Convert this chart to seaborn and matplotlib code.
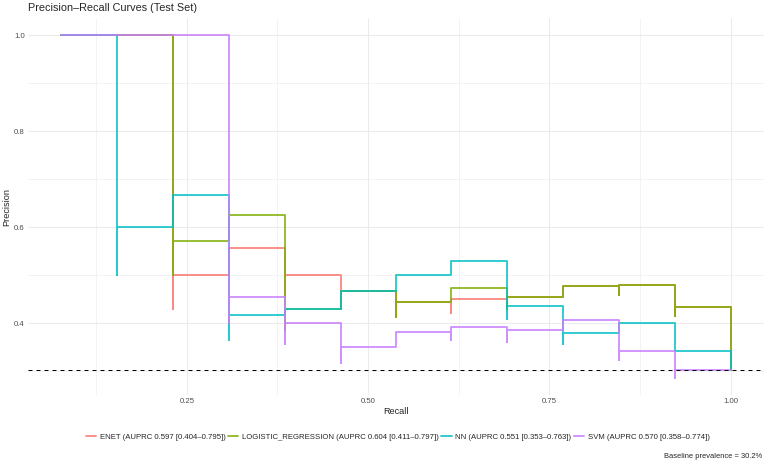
import pandas as pd
import matplotlib
matplotlib.use('Agg')
import matplotlib.pyplot as plt
from matplotlib.ticker import MultipleLocator
import seaborn as sns

# Valores (recall, precision) para cada modelo
enet_recall = [0.077, 0.154, 0.231, 0.231, 0.308, 0.385, 0.385, 0.462, 0.462, 0.538, 0.538,
               0.615, 0.615, 0.692, 0.692, 0.769, 0.846, 0.846, 0.923, 0.923, 1.0, 1.0]
enet_precision = [1.0, 1.0, 1.0, 0.429, 0.5, 0.556, 0.455, 0.5, 0.429, 0.467, 0.412,
                  0.444, 0.421, 0.45, 0.429, 0.455, 0.478, 0.458, 0.48, 0.414, 0.433, 0.302]

lr_recall = [0.077, 0.154, 0.231, 0.231, 0.308, 0.385, 0.385, 0.462, 0.538, 0.538,
             0.615, 0.692, 0.692, 0.769, 0.846, 0.846, 0.923, 0.923, 1.0, 1.0]
lr_precision = [1.0, 1.0, 1.0, 0.5, 0.571, 0.625, 0.385, 0.429, 0.467, 0.412,
                0.444, 0.474, 0.429, 0.455, 0.478, 0.458, 0.48, 0.414, 0.433, 0.302]

nn_recall = [0.077, 0.154, 0.154, 0.231, 0.308, 0.308, 0.385, 0.462, 0.538,
             0.615, 0.692, 0.692, 0.769, 0.769, 0.846, 0.923, 1.0, 1.0]
nn_precision = [1.0, 1.0, 0.5, 0.6, 0.667, 0.364, 0.417, 0.429, 0.467,
                0.5, 0.529, 0.409, 0.435, 0.357, 0.379, 0.4, 0.342, 0.302]

svm_recall = [0.077, 0.154, 0.231, 0.308, 0.308, 0.385, 0.385, 0.462, 0.462, 0.538,
              0.615, 0.615, 0.692, 0.692, 0.769, 0.846, 0.846, 0.923, 0.923, 1.0]
svm_precision = [1.0, 1.0, 1.0, 1.0, 0.4, 0.455, 0.357, 0.4, 0.316, 0.35,
                 0.381, 0.364, 0.391, 0.36, 0.385, 0.407, 0.324, 0.343, 0.286, 0.302]

labels = ['ENET (AUPRC 0.597 [0.404–0.795])',
          'LOGISTIC_REGRESSION (AUPRC 0.604 [0.411–0.797])',
          'NN (AUPRC 0.551 [0.353–0.763])',
          'SVM (AUPRC 0.570 [0.358–0.774])']
colors = ['#F8766D', '#7CAE00', '#00BFC4', '#C77CFF']
baseline = 0.302

sns.set_theme(style='whitegrid')
plt.rcParams['font.family'] = ['Liberation Sans', 'DejaVu Sans']

# Montando o dataframe longo
partes = []
for lab, r, p in zip(labels,
                     [enet_recall, lr_recall, nn_recall, svm_recall],
                     [enet_precision, lr_precision, nn_precision, svm_precision]):
    partes.append(pd.DataFrame({'Recall': r, 'Precision': p, 'model': lab}))
df = pd.concat(partes, ignore_index=True)

W, H, DPI = 767, 464, 60
fig, ax = plt.subplots(figsize=(W / DPI, H / DPI), dpi=DPI)
fig.subplots_adjust(left=28 / W, right=764 / W, top=1 - 18 / H, bottom=1 - 395 / H)

sns.lineplot(data=df, x='Recall', y='Precision', hue='model', palette=colors,
             estimator=None, sort=False, drawstyle='steps-pre',
             linewidth=2.2, alpha=0.85, ax=ax)
ax.axhline(baseline, color='black', linewidth=1.2, linestyle=(0, (4, 4)), zorder=5)

# Limites com expansão de 5% (como no ggplot)
xlo, xhi = df['Recall'].min(), df['Recall'].max()
ylo, yhi = df['Precision'].min(), df['Precision'].max()
ax.set_xlim(xlo - 0.05 * (xhi - xlo), xhi + 0.05 * (xhi - xlo))
ax.set_ylim(ylo - 0.05 * (yhi - ylo), yhi + 0.05 * (yhi - ylo))

ax.set_xticks([0.25, 0.5, 0.75, 1.0])
ax.set_xticklabels(['0.25', '0.50', '0.75', '1.00'])
ax.set_yticks([0.4, 0.6, 0.8, 1.0])
ax.set_yticklabels(['0.4', '0.6', '0.8', '1.0'])
ax.xaxis.set_minor_locator(MultipleLocator(0.125))
ax.yaxis.set_minor_locator(MultipleLocator(0.1))
ax.grid(which='major', color='#EBEBEB', linewidth=1.3)
ax.grid(which='minor', color='#EBEBEB', linewidth=0.7)
ax.set_axisbelow(True)
for s in ax.spines.values():
    s.set_visible(False)
ax.tick_params(which='both', length=0, labelsize=9.3, labelcolor='#4D4D4D', pad=4)
ax.set_xlabel('Recall', fontsize=11, labelpad=2)
ax.set_ylabel('Precision', fontsize=11, labelpad=3)

fig.text(28 / W, 1 - 8 / H, 'Precision–Recall Curves (Test Set)', fontsize=13,
         ha='left', va='center')

handles, labs = ax.get_legend_handles_labels()
ax.get_legend().remove()
fig.legend(handles, labs, loc='center', bbox_to_anchor=(398 / W, 1 - 437 / H), ncol=4,
           frameon=False, fontsize=9.3, handlelength=1.3, handletextpad=0.5,
           columnspacing=0.3)

fig.text(762 / W, 1 - 457 / H, 'Baseline prevalence = 30.2%', fontsize=9,
         ha='right', va='center')

fig.savefig('out.png', dpi=DPI)
